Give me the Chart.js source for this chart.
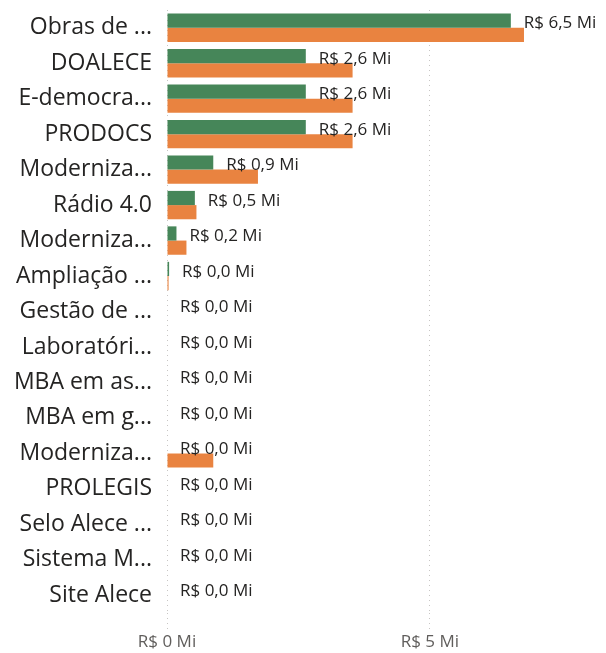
<!DOCTYPE html>
<html lang="pt-BR">
<head>
  <meta charset="UTF-8">
  <title>Projetos - valores</title>
  <style>
    body {
      margin: 0;
      background-color: #ffffff;
    }
    .chart-container {
      position: relative;
      width: 606px;
      height: 653px;
    }
  </style>
</head>
<body>
  <div class="chart-container">
    <canvas id="projetosChart"></canvas>
  </div>

  <script src="https://cdn.jsdelivr.net/npm/chart.js"></script>
  <script>
    // Projetos (rótulos truncados como no painel)
    const projetos = ['Obras de ...', 'DOALECE', 'E-democra...', 'PRODOCS', 'Moderniza...', 'Rádio 4.0',
      'Moderniza...', 'Ampliação ...', 'Gestão de ...', 'Laboratóri...', 'MBA em as...', 'MBA em g...',
      'Moderniza...', 'PROLEGIS', 'Selo Alece ...', 'Sistema M...', 'Site Alece'];
    // valores em milhões de R$
    const valoresVerde = [6.54, 2.64, 2.64, 2.64, 0.88, 0.53, 0.18, 0.04, 0, 0, 0, 0, 0, 0, 0, 0, 0];
    const valoresLaranja = [6.79, 3.53, 3.53, 3.53, 1.73, 0.56, 0.37, 0.03, 0, 0, 0, 0, 0.88, 0, 0, 0, 0];
    const ticksEixoX = [0, 5];
    const eixoXMax = 8.35;

    const fonte = "'Open Sans', 'Noto Sans', sans-serif";

    function formatoMi(v) {
      return 'R$ ' + v.toFixed(1).replace('.', ',') + ' Mi';
    }

    // rótulos de valor ao lado da barra verde
    const rotulosPlugin = {
      id: 'rotulos',
      afterDatasetsDraw(chart) {
        const c = chart.ctx;
        const meta = chart.getDatasetMeta(0);
        c.save();
        c.font = '17px ' + fonte;
        c.fillStyle = '#252423';
        c.textAlign = 'left';
        c.textBaseline = 'middle';
        meta.data.forEach(function(bar, i) {
          c.fillText(formatoMi(valoresVerde[i]), bar.x + 13, bar.y + 3);
        });
        c.restore();
      }
    };

    document.addEventListener('DOMContentLoaded', function() {
      const ctx = document.getElementById('projetosChart').getContext('2d');
      const projetosChart = new Chart(ctx, {
        type: 'bar',
        data: {
          labels: projetos,
          datasets: [{
            label: 'Verde',
            data: valoresVerde,
            backgroundColor: 'rgb(70, 134, 89)',
            categoryPercentage: 0.8,
            barPercentage: 1.0
          }, {
            label: 'Laranja',
            data: valoresLaranja,
            backgroundColor: 'rgb(233, 131, 64)',
            categoryPercentage: 0.8,
            barPercentage: 1.0
          }]
        },
        options: {
          indexAxis: 'y',
          responsive: true,
          maintainAspectRatio: false,
          animation: false,
          layout: {
            padding: { top: 10, right: 0, bottom: 0, left: 0 }
          },
          plugins: {
            legend: { display: false },
            tooltip: { enabled: false }
          },
          scales: {
            x: {
              min: 0,
              max: eixoXMax,
              afterBuildTicks: function(scale) {
                scale.ticks = ticksEixoX.map(function(v) { return { value: v }; });
              },
              afterFit: function(scale) {
                scale.height = 40;
                scale.paddingLeft = 0;
                scale.paddingRight = 0;
              },
              grid: {
                color: '#c8c6c4',
                tickColor: '#c8c6c4',
                tickLength: 16,
                tickBorderDash: [1, 4]
              },
              border: { display: false, dash: [1, 4] },
              ticks: {
                padding: 3,
                color: '#605e5c',
                font: { family: fonte, size: 17 },
                callback: function(v) { return 'R$ ' + v + ' Mi'; }
              }
            },
            y: {
              afterFit: function(scale) {
                scale.width = 167;
                scale.paddingTop = 0;
                scale.paddingBottom = 0;
              },
              grid: { display: false, drawTicks: false },
              border: { display: false },
              ticks: {
                padding: 15,
                color: '#252423',
                font: { family: fonte, size: 23 },
                autoSkip: false
              }
            }
          }
        },
        plugins: [rotulosPlugin]
      });
    });
  </script>
</body>
</html>
